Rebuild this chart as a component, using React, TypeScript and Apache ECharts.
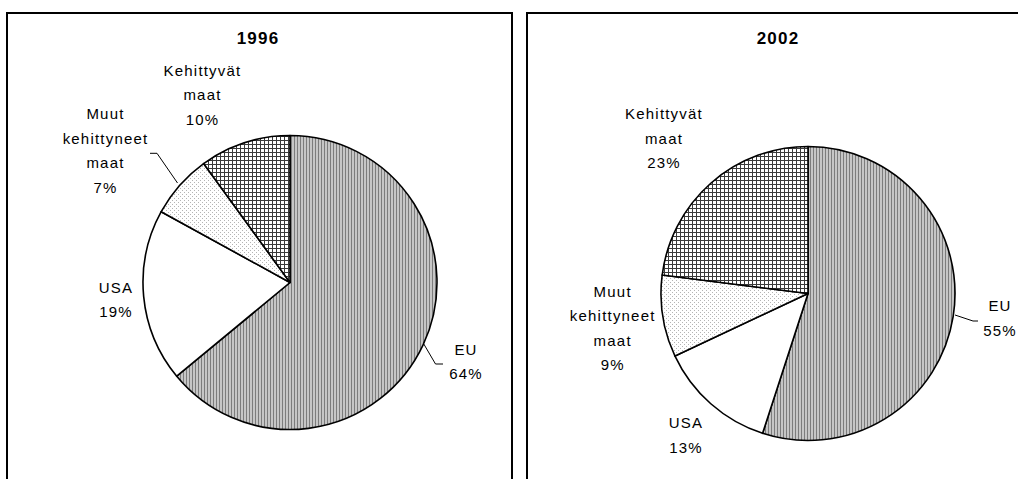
import React, { useEffect, useRef } from "react";
import * as echarts from "echarts";

// ---- data ----
const years = ["1996", "2002"];
const categories = ["EU", "USA", "Muut kehittyneet maat", "Kehittyvät maat"];
const shares1996 = [64, 19, 7, 10];
const shares2002 = [55, 13, 9, 23];
const seriesValues = [shares1996, shares2002];

// ---- layout (positions / styles, not data) ----
const PIE_CENTERS: [number, number][] = [
  [290, 282.5],
  [808, 293.5],
];
const PIE_RADIUS = 147;
const TITLE_POS: [number, number][] = [
  [258, 38],
  [778, 38],
];
// label block centres, relative to each pie centre
const LABEL_OFFSETS: [number, number][][] = [
  [
    [176, 79],
    [-174, 17],
    [-184.5, -132],
    [-87.5, -188],
  ],
  [
    [192, 24.5],
    [-122, 141.3],
    [-195.3, 34.5],
    [-144, -155.2],
  ],
];
// leader lines, relative to each pie centre (null = none)
const LEADERS: ([number, number][] | null)[][] = [
  [
    [
      [133.5, 61],
      [145.5, 81.5],
      [153, 81.5],
    ],
    null,
    [
      [-112.5, -99.5],
      [-133, -129.2],
      [-140, -129.2],
    ],
    null,
  ],
  [
    [
      [147, 21.5],
      [165, 27.5],
      [170, 27.5],
    ],
    null,
    null,
    null,
  ],
];
const BOXES = [
  { x: 7, y: 13, width: 505, height: 520 },
  { x: 527, y: 13, width: 505, height: 520 },
];
const FONT = "'Liberation Sans', Arial, sans-serif";

function makePattern(
  w: number,
  h: number,
  draw: (ctx: CanvasRenderingContext2D) => void
) {
  const c = document.createElement("canvas");
  c.width = w;
  c.height = h;
  const ctx = c.getContext("2d")!;
  ctx.fillStyle = "#ffffff";
  ctx.fillRect(0, 0, w, h);
  draw(ctx);
  return { image: c, repeat: "repeat" } as any;
}

export default function App() {
  const ref = useRef<HTMLDivElement>(null);

  useEffect(() => {
    if (!ref.current) return;
    const chart = echarts.init(ref.current, undefined, { renderer: "svg" });

    const stripes = makePattern(3, 4, (ctx) => {
      ctx.fillStyle = "#c6c6c6";
      ctx.fillRect(0, 0, 3, 4);
      ctx.fillStyle = "#7c7c7c";
      ctx.fillRect(0, 0, 1, 4);
    });
    const dots = makePattern(4, 4, (ctx) => {
      ctx.fillStyle = "#b4b4b4";
      ctx.fillRect(0, 0, 1, 1);
      ctx.fillRect(2, 2, 1, 1);
    });
    const grid = makePattern(4, 4, (ctx) => {
      ctx.fillStyle = "#3a3a3a";
      ctx.fillRect(0, 0, 4, 1);
      ctx.fillRect(0, 0, 1, 4);
    });
    const fills = [stripes, "#ffffff", dots, grid];

    const series = seriesValues.map((vals, si) => ({
      type: "pie",
      silent: true,
      center: PIE_CENTERS[si],
      radius: PIE_RADIUS,
      startAngle: 90,
      clockwise: true,
      avoidLabelOverlap: false,
      itemStyle: { borderColor: "#000", borderWidth: 1.6 },
      label: {
        show: true,
        position: "outside",
        color: "#000",
        fontFamily: FONT,
        fontSize: 15,
        lineHeight: 24.5,
        align: "center",
        formatter: (p: any) =>
          String(p.name).split(" ").join("\n") + "\n" + p.value + "%",
      },
      labelLine: {
        show: true,
        lineStyle: { color: "#000", width: 1 },
      },
      labelLayout: (p: any) => {
        const [cx, cy] = PIE_CENTERS[si];
        const off = LABEL_OFFSETS[si][p.dataIndex];
        const lead = LEADERS[si][p.dataIndex];
        const res: any = {
          x: cx + off[0],
          y: cy + off[1],
          align: "center",
          verticalAlign: "middle",
        };
        if (lead) {
          res.labelLinePoints = lead.map(([dx, dy]) => [cx + dx, cy + dy]);
        }
        return res;
      },
      data: vals.map((v, i) => ({
        name: categories[i],
        value: v,
        itemStyle: { color: fills[i] },
        labelLine: { show: !!LEADERS[si][i] },
      })),
    }));

    const graphic: any[] = [];
    BOXES.forEach((b) =>
      graphic.push({
        type: "rect",
        silent: true,
        shape: { x: b.x, y: b.y, width: b.width, height: b.height },
        style: { fill: "none", stroke: "#000", lineWidth: 2 },
      })
    );
    years.forEach((y, i) =>
      graphic.push({
        type: "text",
        silent: true,
        x: TITLE_POS[i][0],
        y: TITLE_POS[i][1],
        style: {
          text: y,
          fill: "#000",
          font: `bold 17px ${FONT}`,
          align: "center",
          verticalAlign: "middle",
        },
      })
    );

    chart.setOption({
      animation: false,
      backgroundColor: "#ffffff",
      graphic,
      series,
    } as any);

    return () => chart.dispose();
  }, []);

  return (
    <>
      <style>{`#chart-root text { letter-spacing: 1.2px; }`}</style>
      <div
        id="chart-root"
        ref={ref}
        style={{
          position: "absolute",
          left: 0,
          top: 0,
          width: 1018,
          height: 479,
        }}
      />
    </>
  );
}
